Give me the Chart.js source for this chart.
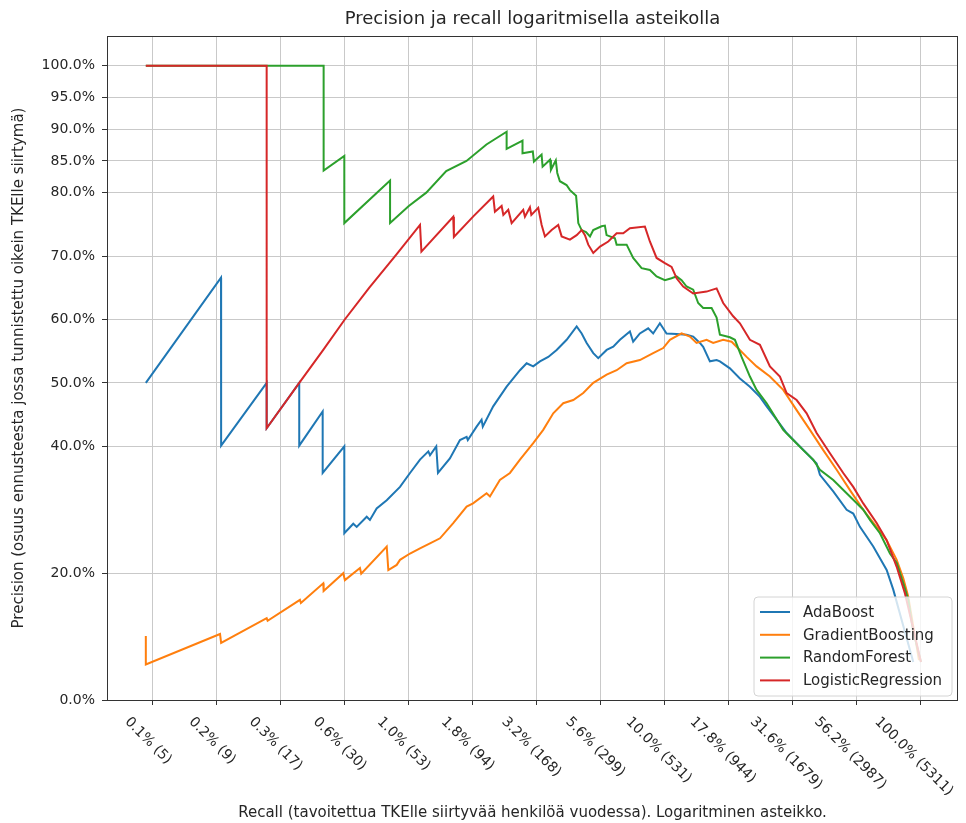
<!DOCTYPE html>
<html>
<head>
<meta charset="utf-8">
<script src="https://cdn.jsdelivr.net/npm/chart.js@4"></script>
<style>
html,body{margin:0;padding:0;background:#ffffff;}
#wrap{width:966px;height:823px;}
</style>
</head>
<body>
<div id="wrap"><canvas id="c" width="966" height="823"></canvas></div>
<script>
// ---------------- texts ----------------
const titleText = 'Precision ja recall logaritmisella asteikolla';
const xAxisTitle = 'Recall (tavoitettua TKElle siirtyvää henkilöä vuodessa). Logaritminen asteikko.';
const yAxisTitle = 'Precision (osuus ennusteesta jossa tunnistettu oikein TKElle siirtymä)';
const seriesNames = ['AdaBoost', 'GradientBoosting', 'RandomForest', 'LogisticRegression'];
const seriesColors = ['#1f77b4', '#ff7f0e', '#2ca02c', '#d62728'];

// ---------------- ticks ----------------
const xTickValues = [0.1, 0.17783, 0.31623, 0.56234, 1, 1.7783, 3.1623, 5.6234, 10, 17.783, 31.623, 56.234, 100];
const xTickLabels = ['0.1% (5)', '0.2% (9)', '0.3% (17)', '0.6% (30)', '1.0% (53)', '1.8% (94)', '3.2% (168)',
                     '5.6% (299)', '10.0% (531)', '17.8% (944)', '31.6% (1679)', '56.2% (2987)', '100.0% (5311)'];
const yTickValues = [0, 20, 40, 50, 60, 70, 80, 85, 90, 95, 100];
const yTickLabels = ['0.0%', '20.0%', '40.0%', '50.0%', '60.0%', '70.0%', '80.0%', '85.0%', '90.0%', '95.0%', '100.0%'];

// ---------------- data (recall %, precision %) ----------------
const adaRecall = [0.094, 0.1848, 0.185, 0.2786, 0.2786, 0.3734, 0.3734, 0.461, 0.461, 0.56, 0.56, 0.607, 0.626, 0.685, 0.705,
  0.749, 0.820, 0.924, 1.011, 1.106, 1.192, 1.21, 1.28, 1.30, 1.447, 1.584, 1.682, 1.70, 1.840, 1.924, 1.945, 2.136,
  2.41, 2.717, 2.885, 3.061, 3.252, 3.504, 3.779, 4.134, 4.524, 4.732, 4.949, 5.252, 5.493, 5.924, 6.286, 6.676,
  7.302, 7.519, 7.987, 8.605, 9.0, 9.56, 10.15, 11.11, 12.15, 12.90, 13.70, 14.11, 14.99, 15.92, 16.40, 17.94,
  19.63, 21.48, 23.50, 24.97, 27.31, 29.88, 32.69, 35.77, 39.13, 40.31, 45.44, 51.26, 54.39, 57.77, 65.12, 73.45,
  77.95, 93.3];
const adaPrecision = [50.0, 66.6, 40.1, 50.0, 42.85, 50.0, 40.1, 45.5, 35.8, 40.0, 26.3, 27.8, 27.3, 28.9, 28.4,
  30.2, 31.5, 33.6, 35.8, 37.9, 39.2, 38.6, 40.0, 35.8, 38.1, 41.0, 41.5, 41.0, 43.1, 44.2, 43.1, 46.3,
  49.4, 52.0, 53.1, 52.6, 53.4, 54.1, 55.2, 56.8, 58.9, 57.8, 56.3, 54.7, 53.9, 55.2, 55.7, 56.8,
  58.1, 56.5, 57.8, 58.6, 57.8, 59.4, 57.8, 57.7, 57.6, 57.3, 56.3, 55.7, 53.4, 53.6, 53.4, 52.3,
  50.7, 49.4, 47.8, 46.3, 44.2, 42.1, 40.5, 38.9, 37.3, 35.5, 32.9, 30.0, 29.4, 27.3, 24.2, 20.5,
  17.4, 6.0];

const gbRecall = [0.094, 0.094, 0.1832, 0.185, 0.2786, 0.281, 0.3758, 0.379, 0.4634, 0.465, 0.5548, 0.563, 0.6446,
  0.652, 0.820, 0.832, 0.897, 0.924, 1.011, 1.106, 1.210, 1.324, 1.491, 1.682, 1.782, 2.013, 2.074, 2.268, 2.483,
  2.717, 3.061, 3.349, 3.665, 4.010, 4.388, 4.800, 5.252, 5.924, 6.481, 7.091, 7.987, 9.0, 9.848, 10.46, 11.62,
  12.52, 13.29, 14.55, 15.44, 16.89, 18.22, 19.05, 20.85, 22.81, 25.71, 28.98, 32.69, 36.84, 41.53, 46.85, 52.80,
  59.51, 67.12, 73.45, 80.38, 85.30, 89.21, 98.2];
const gbPrecision = [10.1, 5.6, 10.4, 9.0, 12.9, 12.5, 15.8, 15.3, 18.4, 17.2, 20.0, 18.9, 20.8,
  19.9, 24.2, 20.5, 21.3, 22.1, 23.1, 23.9, 24.7, 25.5, 27.9, 30.5, 31.0, 32.6, 32.1, 34.7, 35.8,
  37.9, 40.5, 42.6, 45.2, 46.8, 47.3, 48.4, 50.0, 51.3, 52.0, 53.1, 53.6, 54.7, 55.5, 56.8, 57.8,
  57.3, 56.3, 56.8, 56.3, 56.8, 56.5, 55.7, 54.1, 52.6, 51.0, 48.9, 45.7, 42.6, 39.4, 36.3, 33.1,
  30.0, 27.3, 25.2, 22.1, 19.2, 16.3, 6.3];

const rfRecall = [0.094, 0.465, 0.465, 0.56, 0.56, 0.845, 0.845, 1.0, 1.17, 1.40, 1.68, 2.01, 2.41, 2.41, 2.78,
  2.78, 3.05, 3.08, 3.30, 3.33, 3.56, 3.59, 3.75, 3.80, 3.89, 4.13, 4.26, 4.50, 4.55, 4.59, 4.73, 4.92, 5.10,
  5.25, 5.66, 5.83, 5.92, 6.10, 6.38, 6.48, 7.09, 7.52, 8.11, 8.74, 9.28, 10.0, 10.62, 11.11, 11.62, 12.15,
  12.90, 13.49, 14.11, 15.22, 15.92, 16.40, 17.94, 18.77, 19.93, 21.48, 22.81, 24.97, 26.89, 28.98, 31.7,
  34.69, 37.95, 40.31, 45.44, 52.80, 59.51, 63.20, 69.14, 75.67, 80.38, 85.30, 89.21, 93.06, 100];
const rfPrecision = [100, 100, 83.5, 85.8, 75.2, 81.9, 75.2, 77.9, 80.0, 83.4, 85.0, 87.6, 89.6, 86.9, 88.2,
  86.2, 86.5, 84.9, 86.0, 84.1, 85.2, 83.6, 85.1, 83.1, 81.8, 81.2, 80.4, 79.5, 77.3, 75.2, 74.1, 73.8, 73.1,
  74.1, 74.7, 74.8, 73.3, 73.1, 72.8, 71.8, 71.8, 69.7, 68.1, 67.8, 66.8, 66.2, 66.5, 66.8, 66.2, 65.2,
  64.7, 62.6, 61.8, 61.8, 60.3, 57.6, 57.2, 56.8, 54.1, 51.0, 48.9, 46.8, 44.7, 42.6, 41.0,
  39.4, 37.9, 36.3, 34.7, 32.1, 30.0, 28.4, 26.3, 23.1, 21.6, 18.4, 15.8, 11.0, 6.0];

const lrRecall = [0.094, 0.2786, 0.2786, 0.3734, 0.4634, 0.5623, 0.70, 0.897, 1.106, 1.12, 1.491, 1.50, 1.79, 2.136,
  2.169, 2.304, 2.34, 2.446, 2.521, 2.798, 2.841, 2.972, 3.01, 3.202, 3.302, 3.401, 3.612, 3.833, 3.952, 4.258,
  4.524, 4.732, 4.873, 5.021, 5.252, 5.58, 6.010, 6.48, 6.877, 7.302, 8.355, 8.737, 9.281, 10.0, 10.62, 11.11,
  11.79, 12.90, 14.55, 15.92, 16.89, 18.48, 19.63, 21.48, 23.50, 25.71, 28.13, 29.88, 32.69, 35.77, 39.13,
  44.11, 49.71, 54.39, 59.51, 67.12, 73.45, 80.38, 86.60, 100];
const lrPrecision = [100, 100, 42.85, 50.0, 55.2, 60.0, 65.0, 70.3, 74.9, 70.7, 76.2, 73.0, 76.3, 79.4,
  77.0, 77.9, 76.5, 77.3, 75.2, 77.3, 76.2, 77.7, 76.5, 77.6, 74.9, 73.1, 74.1, 74.9, 73.1, 72.6,
  73.3, 74.1, 73.3, 71.8, 70.5, 71.5, 72.3, 73.6, 73.6, 74.4, 74.65, 72.3, 69.7, 68.9, 68.3, 66.5,
  65.2, 64.1, 64.4, 64.9, 62.6, 60.5, 59.4, 56.8, 56.0, 52.6, 51.0, 48.4, 47.3, 45.2, 42.1,
  38.9, 35.8, 33.6, 31.0, 27.9, 25.2, 21.0, 16.8, 6.0];

// ---------------- build ----------------
const FONT = "'DejaVu Sans', 'Liberation Sans', sans-serif";
Chart.defaults.font.family = FONT;
const TEXT_COLOR = '#262626';
const GRID_COLOR = '#c9c9c9';

function pts(xs, ys) { return xs.map((x, i) => ({ x: x, y: ys[i] })); }
const seriesData = [pts(adaRecall, adaPrecision), pts(gbRecall, gbPrecision), pts(rfRecall, rfPrecision), pts(lrRecall, lrPrecision)];

const datasets = seriesNames.map((name, i) => ({
  label: name,
  data: seriesData[i],
  borderColor: seriesColors[i],
  backgroundColor: seriesColors[i],
  borderWidth: 2,
  pointRadius: 0,
  tension: 0,
  fill: false,
  order: 3 - i
}));

const decor = {
  id: 'decor',
  afterDatasetsDraw(chart) {
    const ctx = chart.ctx;
    const a = chart.chartArea;
    // frame
    ctx.save();
    ctx.strokeStyle = '#333333';
    ctx.lineWidth = 1;
    ctx.strokeRect(Math.round(a.left) + 0.5, Math.round(a.top) + 0.5, Math.round(a.right - a.left) - 1, Math.round(a.bottom - a.top));
    ctx.restore();

    // legend
    ctx.save();
    const lw = 198, lh = 99;
    const lx = a.right - 6 - lw, ly = a.bottom - 4 - lh;
    const r = 4;
    ctx.beginPath();
    ctx.moveTo(lx + r, ly);
    ctx.lineTo(lx + lw - r, ly);
    ctx.quadraticCurveTo(lx + lw, ly, lx + lw, ly + r);
    ctx.lineTo(lx + lw, ly + lh - r);
    ctx.quadraticCurveTo(lx + lw, ly + lh, lx + lw - r, ly + lh);
    ctx.lineTo(lx + r, ly + lh);
    ctx.quadraticCurveTo(lx, ly + lh, lx, ly + lh - r);
    ctx.lineTo(lx, ly + r);
    ctx.quadraticCurveTo(lx, ly, lx + r, ly);
    ctx.closePath();
    ctx.fillStyle = 'rgba(255,255,255,0.8)';
    ctx.fill();
    ctx.strokeStyle = '#d4d4d4';
    ctx.lineWidth = 1;
    ctx.stroke();
    ctx.font = '15px ' + FONT;
    ctx.textBaseline = 'middle';
    ctx.textAlign = 'left';
    seriesNames.forEach((name, i) => {
      const yy = ly + 15 + i * 22.8;
      ctx.strokeStyle = seriesColors[i];
      ctx.lineWidth = 2;
      ctx.beginPath();
      ctx.moveTo(lx + 6, yy);
      ctx.lineTo(lx + 36, yy);
      ctx.stroke();
      ctx.fillStyle = TEXT_COLOR;
      ctx.fillText(name, lx + 49, yy + 1);
    });
    ctx.restore();
  },
  afterDraw(chart) {
    const ctx = chart.ctx;
    const a = chart.chartArea;
    const xs = chart.scales.x;
    ctx.save();
    ctx.fillStyle = TEXT_COLOR;
    // title
    ctx.font = '18px ' + FONT;
    ctx.textAlign = 'center';
    ctx.textBaseline = 'middle';
    ctx.fillText(titleText, (a.left + a.right) / 2, 19);
    // x axis title
    ctx.font = '15px ' + FONT;
    ctx.fillText(xAxisTitle, (a.left + a.right) / 2, 813);
    // y axis title
    ctx.save();
    ctx.translate(19, (a.top + a.bottom) / 2);
    ctx.rotate(-Math.PI / 2);
    ctx.fillText(yAxisTitle, 0, 0);
    ctx.restore();
    // x tick labels rotated
    ctx.font = '14px ' + FONT;
    xTickValues.forEach((v, i) => {
      const px = xs.getPixelForValue(v);
      const w = ctx.measureText(xTickLabels[i]).width;
      const h = 16;
      const diag = (w + h) * Math.SQRT1_2;
      ctx.save();
      ctx.translate(px - 1 - w * 0.06, a.bottom + 14 + diag / 2);
      ctx.rotate(Math.PI / 4);
      ctx.textAlign = 'center';
      ctx.textBaseline = 'middle';
      ctx.fillText(xTickLabels[i], 0, 0);
      ctx.restore();
    });
    ctx.restore();
  }
};

new Chart(document.getElementById('c'), {
  type: 'line',
  data: { datasets: datasets },
  options: {
    responsive: false,
    animation: false,
    devicePixelRatio: 1,
    layout: { padding: { left: 0, right: 8, top: 36, bottom: 0 } },
    plugins: { legend: { display: false }, title: { display: false }, tooltip: { enabled: false } },
    elements: { point: { radius: 0 }, line: { tension: 0 } },
    scales: {
      x: {
        type: 'logarithmic',
        min: 0.0663,
        max: 139.5,
        afterBuildTicks: (s) => { s.ticks = xTickValues.map(v => ({ value: v })); },
        afterFit: (s) => { s.height = 123; },
        ticks: { display: false },
        grid: { color: GRID_COLOR, lineWidth: 1, drawTicks: true, tickLength: 5, tickColor: '#333333', tickWidth: 1 },
        border: { display: false }
      },
      y: {
        type: 'linear',
        min: 0,
        max: 104.7,
        afterBuildTicks: (s) => { s.ticks = yTickValues.map(v => ({ value: v })); },
        afterFit: (s) => { s.width = 107; },
        ticks: {
          font: { family: FONT, size: 14 },
          color: TEXT_COLOR,
          padding: 7,
          autoSkip: false,
          callback: (v, i) => yTickLabels[i]
        },
        grid: { color: GRID_COLOR, lineWidth: 1, drawTicks: true, tickLength: 5, tickColor: '#333333', tickWidth: 1 },
        border: { display: false }
      }
    }
  },
  plugins: [decor]
});
</script>
</body>
</html>
